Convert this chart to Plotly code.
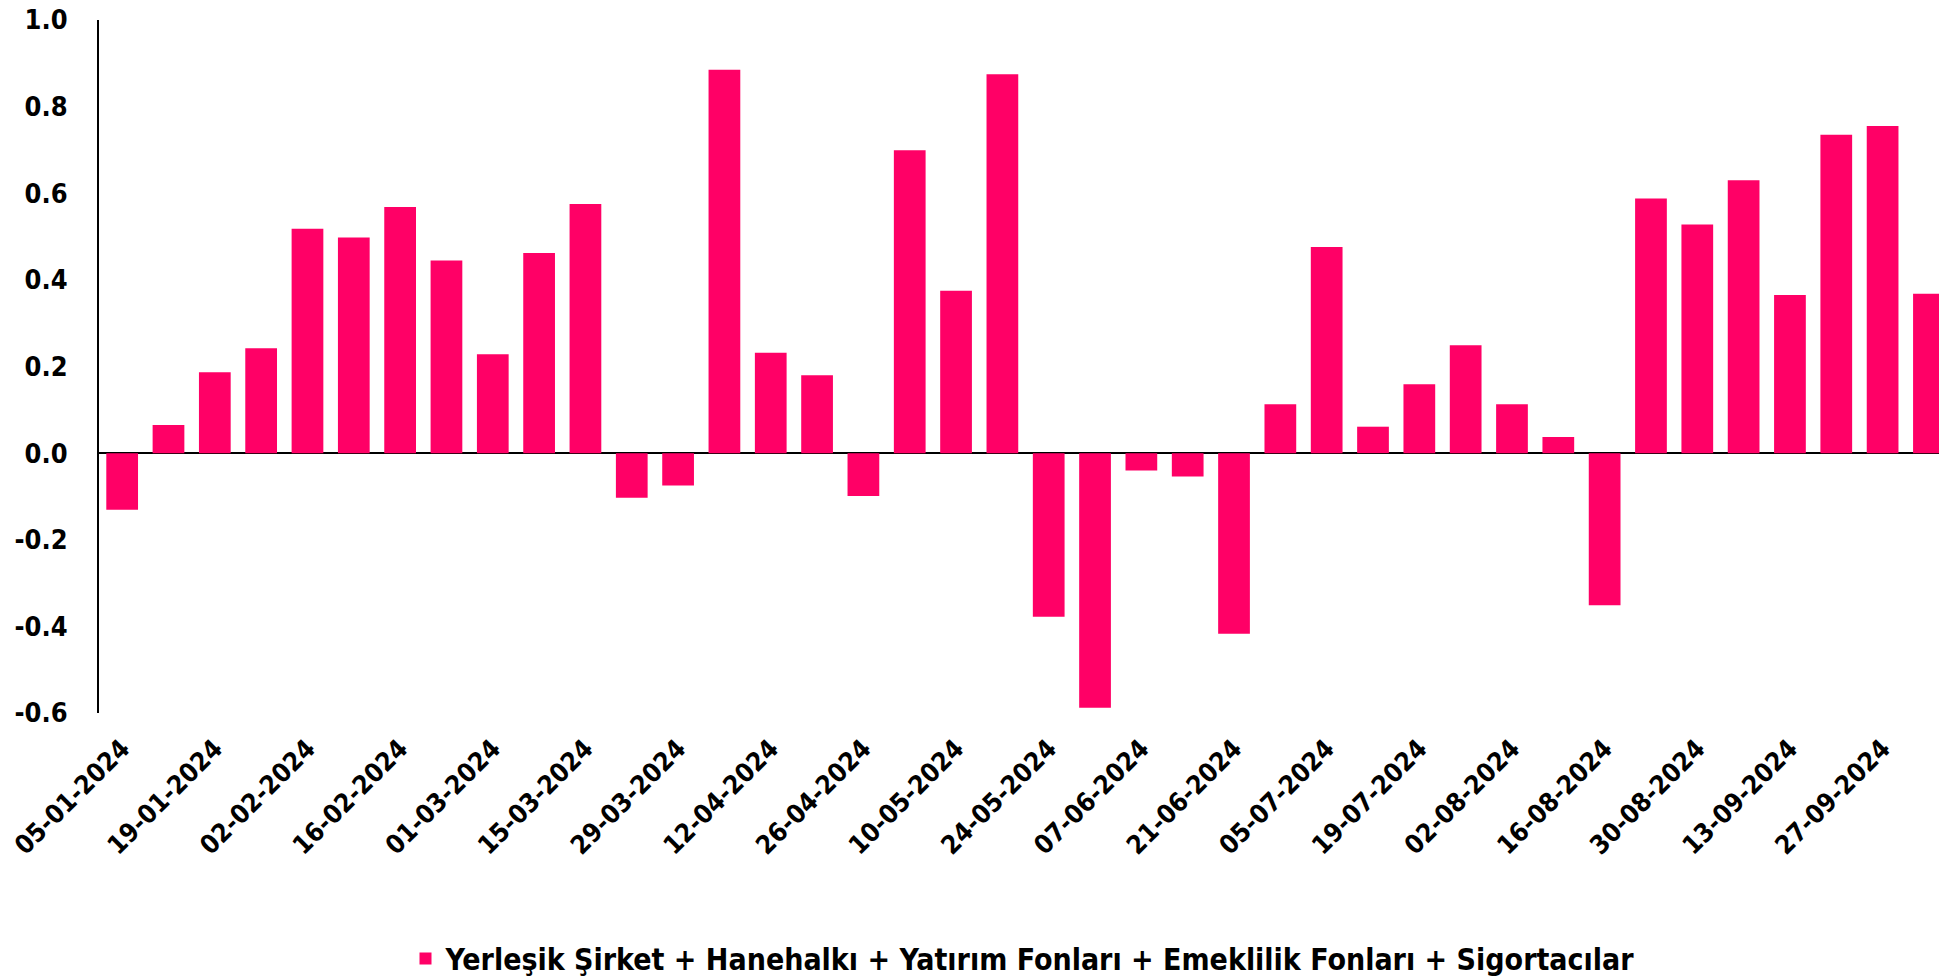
import datetime as dt
import plotly.graph_objects as go

start = dt.date(2024, 1, 5)
dates = [(start + dt.timedelta(days=7 * i)).strftime("%d-%m-%Y") for i in range(40)]

values = [
    -0.131, 0.065, 0.187, 0.242, 0.518, 0.498, 0.568, 0.445, 0.228, 0.462,
    0.575, -0.103, -0.075, 0.885, 0.232, 0.180, -0.099, 0.699, 0.375, 0.875,
    -0.378, -0.588, -0.040, -0.054, -0.417, 0.113, 0.476, 0.061, 0.159, 0.249,
    0.113, 0.037, -0.351, 0.588, 0.528, 0.630, 0.365, 0.735, 0.755, 0.368,
]

series_name = "Yerleşik Şirket + Hanehalkı + Yatırım Fonları + Emeklilik Fonları + Sigortacılar"
tick_labels = dates[::2]
y_ticks = [-0.6, -0.4, -0.2, 0.0, 0.2, 0.4, 0.6, 0.8, 1.0]

FONT = "Liberation Sans Narrow, DejaVu Sans Condensed, Liberation Sans, Arial"

fig = go.Figure()
fig.add_trace(go.Bar(
    x=dates, y=values, name=series_name,
    marker=dict(color="#FF0066", line=dict(width=0)),
    showlegend=True,
))

fig.update_layout(
    width=1939, height=969,
    margin=dict(l=91, r=0, t=12, b=264, autoexpand=False),
    paper_bgcolor="white", plot_bgcolor="white",
    bargap=0.315,
    font=dict(family=FONT, color="black", size=26, weight="bold"),
    showlegend=True,
    legend=dict(
        orientation="h", x=0.5, xanchor="center",
        yref="container", y=0.019, yanchor="middle",
        font=dict(family=FONT, size=30, color="black", weight="bold"),
        itemsizing="constant",
    ),
    xaxis=dict(
        type="category",
        range=[-0.5, 39.39],
        tickmode="array", tickvals=tick_labels, ticktext=tick_labels,
        tickangle=-45,
        showline=False, showgrid=False, zeroline=False,
        ticks="", ticklabelstandoff=14,
        tickfont=dict(family=FONT, size=26, color="black", weight="bold"),
        automargin=False,
    ),
    yaxis=dict(
        range=[-0.6, 1.0],
        tickmode="array", tickvals=y_ticks,
        ticktext=[f"{v:.1f}" for v in y_ticks],
        showline=True, linecolor="black", linewidth=2,
        showgrid=False,
        zeroline=True, zerolinecolor="black", zerolinewidth=2,
        ticks="", ticklabelstandoff=24, ticklabeloverflow="allow",
        tickfont=dict(family=FONT, size=27, color="black", weight="bold"),
        automargin=False,
    ),
)

fig.write_html("out.html")
